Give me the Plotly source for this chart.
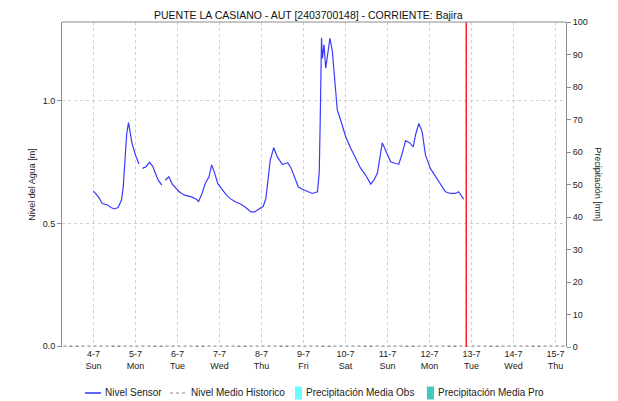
import pandas as pd
import plotly.graph_objects as go

# Nivel Sensor: hours after 2021-07-04 00:00 and level in metres (None = gap)
sensor_hours = [0, 3, 5, 8, 10, 12, 14, 16, 17, 18, 19, 20, 21, 22, 24, 26, 27,
                28, 30, 32, 34, 35, 37, 39, 40, 41, 43, 45, 47, 49, 52, 56, 59,
                60, 62, 64, 66, 67.5, 69, 71, 73, 76, 78, 81, 84, 87, 90, 92, 95,
                97, 98.5, 100, 101, 103, 105, 108, 111, 113, 115, 117, 119, 122,
                125, 128, 129, 129.5, 130.3, 130.8, 131.7, 132.7, 134, 135.1,
                136.5, 137.8, 139.3, 141.2, 144.1, 147, 149.8, 152.7, 155.5,
                158.4, 160.2, 162.2, 165, 166.9, 169.8, 172.6, 174.5, 176.4,
                178.3, 180.7, 182.7, 184, 185.9, 187.8, 189.7, 192.5, 195.4,
                198.2, 201.1, 203.9, 206.8, 208.7, 211.5]
sensor_level = [0.632, 0.606, 0.581, 0.575, 0.565, 0.559, 0.565, 0.595, 0.649,
                0.758, 0.867, 0.910, 0.867, 0.826, 0.778, 0.742, None,
                0.724, 0.731, 0.749, 0.731, 0.710, 0.676, 0.656, None, 0.676,
                0.690, 0.660, 0.643, 0.629, 0.615, 0.608, 0.598, 0.588, 0.622,
                0.665, 0.690, 0.738, 0.710, 0.663, 0.643, 0.615, 0.602, 0.588,
                0.579, 0.565, 0.547, 0.547, 0.561, 0.570, 0.602, 0.710, 0.758,
                0.808, 0.771, 0.740, 0.747, 0.724, 0.686, 0.649, 0.640, 0.632,
                0.622, 0.629, 0.710, 0.900, 1.256, 1.172, 1.227, 1.132, 1.206,
                1.254, 1.199, 1.077, 0.962, 0.921, 0.853, 0.806, 0.765, 0.724,
                0.697, 0.660, 0.676, 0.704, 0.828, 0.799, 0.751, 0.744, 0.742,
                0.785, 0.837, 0.828, 0.812, 0.860, 0.907, 0.873, 0.778, 0.724,
                0.690, 0.663, 0.629, 0.622, 0.622, 0.629, 0.599]

days = pd.date_range("2021-07-03", "2021-07-16", freq="D")
historic_level = [0.0] * len(days)
precip_obs = [0.0] * len(days)
precip_pro = [0.0] * len(days)

tick_days = pd.date_range("2021-07-04", "2021-07-15", freq="D")
tick_text = ["4-7<br>Sun", "5-7<br>Mon", "6-7<br>Tue", "7-7<br>Wed", "8-7<br>Thu",
             "9-7<br>Fri", "10-7<br>Sat", "11-7<br>Sun", "12-7<br>Mon",
             "13-7<br>Tue", "14-7<br>Wed", "15-7<br>Thu"]

now_marker = pd.Timestamp("2021-07-12 21:00")

sensor_time = pd.Timestamp("2021-07-04") + pd.to_timedelta(sensor_hours, unit="h")

SENSOR_COLOR = "#3a3aff"
HIST_COLOR = "#8a8a8a"
OBS_COLOR = "#66ffff"
PRO_COLOR = "#40c8c0"

fig = go.Figure()
fig.add_trace(go.Scatter(x=sensor_time, y=sensor_level, mode="lines",
                         name="Nivel Sensor", connectgaps=False,
                         line=dict(color=SENSOR_COLOR, width=1.2)))
fig.add_trace(go.Scatter(x=days, y=historic_level, mode="lines",
                         name="Nivel Medio Historico",
                         line=dict(color=HIST_COLOR, width=1.5, dash="dot")))
fig.add_trace(go.Bar(x=days, y=precip_obs, name="Precipitación Media Obs",
                     marker_color=OBS_COLOR, yaxis="y2"))
fig.add_trace(go.Bar(x=days, y=precip_pro, name="Precipitación Media Pro",
                     marker_color=PRO_COLOR, yaxis="y2"))

fig.add_shape(type="line", xref="x", yref="paper", x0=now_marker, x1=now_marker,
              y0=0, y1=1, line=dict(color="#ff2020", width=1.5))
fig.add_shape(type="line", xref="paper", yref="paper", x0=0, x1=1, y0=1, y1=1,
              line=dict(color="#8c8c8c", width=1))

fig.add_annotation(text="Precipitación [mm]", textangle=90, showarrow=False,
                   xref="paper", yref="paper", x=1.05, y=0.5, xanchor="left",
                   font=dict(size=9, color="#222"))

# title as an annotation so it sits just above the plot without being clipped
fig.add_annotation(text="PUENTE LA CASIANO - AUT [2403700148] - CORRIENTE: Bajira",
                   showarrow=False, xref="paper", yref="paper", x=0.49, y=1.0,
                   xanchor="center", yanchor="bottom", yshift=-1,
                   font=dict(size=10.5, color="#111"))

# legend drawn by hand so it stays on one compact row like the original
ly = -0.1415
fig.add_shape(type="line", xref="paper", yref="paper", x0=0.0456, x1=0.0774,
              y0=ly, y1=ly, line=dict(color="#0000ff", width=1.2))
fig.add_shape(type="line", xref="paper", yref="paper", x0=0.2143, x1=0.246,
              y0=ly, y1=ly, line=dict(color="#b0b0b0", width=1.5, dash="dot"))
fig.add_shape(type="rect", xref="paper", yref="paper", x0=0.4623, x1=0.4762,
              y0=ly - 0.02, y1=ly + 0.02, line=dict(width=0), fillcolor=OBS_COLOR)
fig.add_shape(type="rect", xref="paper", yref="paper", x0=0.724, x1=0.738,
              y0=ly - 0.02, y1=ly + 0.02, line=dict(width=0), fillcolor=PRO_COLOR)
for lx, label in [(0.0813, "Nivel Sensor"), (0.252, "Nivel Medio Historico"),
                  (0.480, "Precipitación Media Obs"), (0.742, "Precipitación Media Pro")]:
    fig.add_annotation(text=label, showarrow=False, xref="paper", yref="paper",
                       x=lx, y=ly, xanchor="left", yanchor="middle",
                       font=dict(size=10, color="#222"))

# the page adds an 8px body margin, so the figure is 8px smaller than the window
fig.update_layout(
    width=610, height=393,
    margin=dict(l=54, r=52, t=14, b=54, autoexpand=False),
    paper_bgcolor="white", plot_bgcolor="white",
    font=dict(family="Liberation Sans, Arial, sans-serif", size=9, color="#222"),
    showlegend=False,
    bargap=0.3,
    xaxis=dict(type="date",
               range=[pd.Timestamp("2021-07-03 06:00"), pd.Timestamp("2021-07-15 06:00")],
               tickmode="array", tickvals=tick_days, ticktext=tick_text,
               showgrid=True, gridcolor="#cfcfcf", griddash="dot", gridwidth=1,
               showline=False, zeroline=False, ticks=""),
    yaxis=dict(range=[-0.003, 1.32], tickmode="array", tickvals=[0, 0.5, 1.0],
               ticktext=["0.0", "0.5", "1.0"],
               title=dict(text="Nivel del Agua [m]", standoff=5,
                          font=dict(size=9)),
               showgrid=True, gridcolor="#cfcfcf", griddash="dot",
               showline=True, linecolor="#8c8c8c", linewidth=1,
               ticks="outside", ticklen=4, tickcolor="#8c8c8c", zeroline=False),
    yaxis2=dict(range=[0, 100], overlaying="y", side="right",
                tickmode="linear", dtick=10, showgrid=False,
                showline=True, linecolor="#8c8c8c", linewidth=1,
                ticks="outside", ticklen=4, tickcolor="#8c8c8c", zeroline=False),
)

fig.write_html("out.html")
